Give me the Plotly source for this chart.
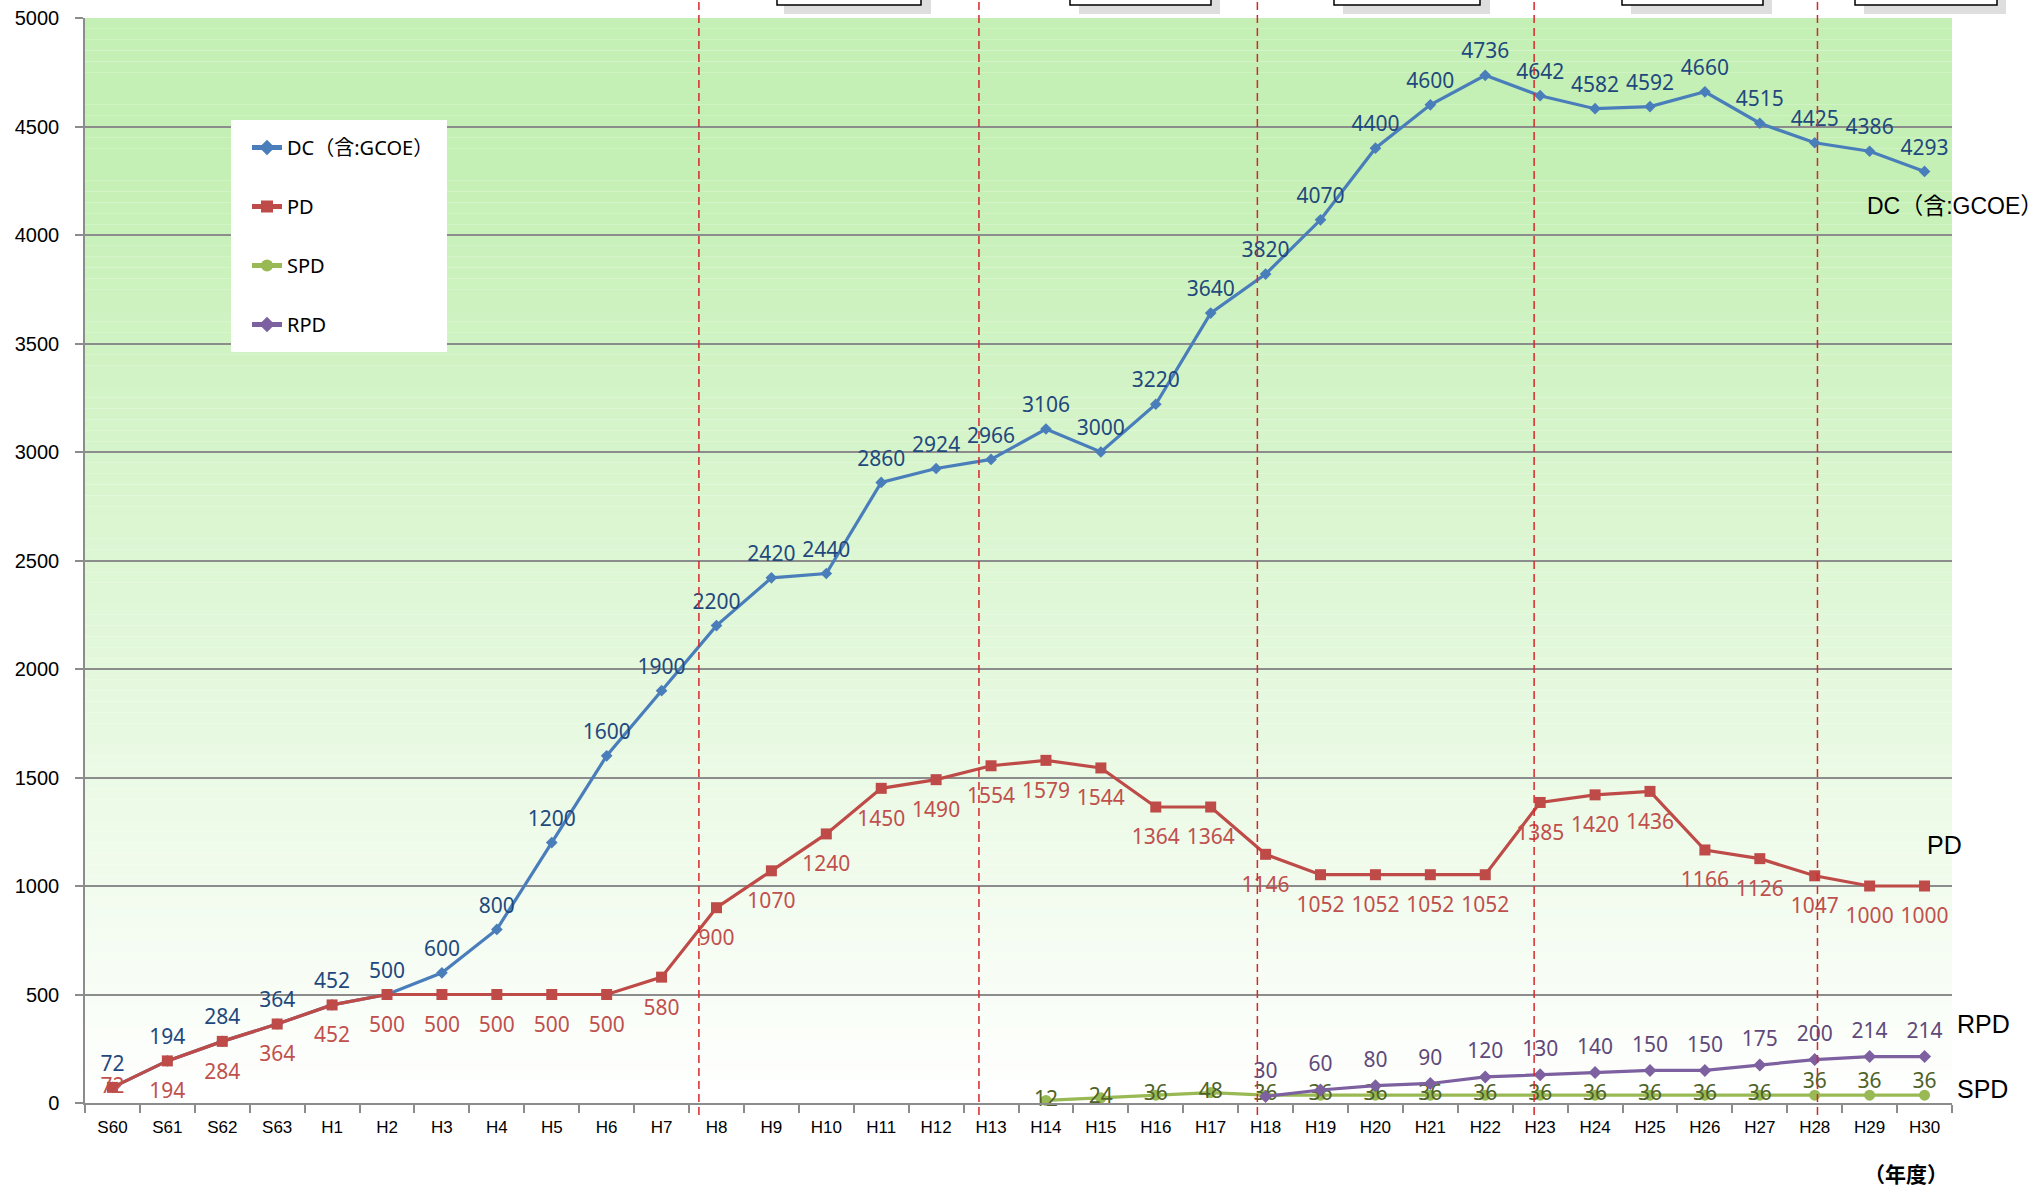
import plotly.graph_objects as go

categories = ["S60", "S61", "S62", "S63"] + [f"H{i}" for i in range(1, 31)]

dc = [72, 194, 284, 364, 452, 500, 600, 800, 1200, 1600, 1900, 2200, 2420, 2440, 2860, 2924,
      2966, 3106, 3000, 3220, 3640, 3820, 4070, 4400, 4600, 4736, 4642, 4582, 4592, 4660, 4515,
      4425, 4386, 4293]
pd_vals = [72, 194, 284, 364, 452, 500, 500, 500, 500, 500, 580, 900, 1070, 1240, 1450, 1490,
           1554, 1579, 1544, 1364, 1364, 1146, 1052, 1052, 1052, 1052, 1385, 1420, 1436, 1166,
           1126, 1047, 1000, 1000]
spd_cats = [f"H{i}" for i in range(14, 31)]
spd = [12, 24, 36, 48, 36, 36, 36, 36, 36, 36, 36, 36, 36, 36, 36, 36, 36]
rpd_cats = [f"H{i}" for i in range(18, 31)]
rpd = [30, 60, 80, 90, 120, 130, 140, 150, 150, 175, 200, 214, 214]

y_ticks = list(range(0, 5001, 500))
era_lines = [10.68, 15.78, 20.85, 25.89, 31.05]

# page geometry (pixels)
W, H = 2043, 1191
L, R, T, B = 85, 1952, 18, 1103
PW, PH = R - L, B - T
def px(x):
    return (x - L) / PW
def py(y):
    return (B - y) / PH

fig = go.Figure()

def add_series(xs, ys, name, group, color, text_color, symbol, msize, positions, label_pad):
    # line + markers (legend entry)
    fig.add_trace(go.Scatter(
        x=xs, y=ys, name=name, mode="lines+markers",
        line=dict(color=color, width=3.2), marker=dict(symbol=symbol, size=msize, color=color),
        legendgroup=group, cliponaxis=False))
    # data labels, offset by an invisible marker of size label_pad
    fig.add_trace(go.Scatter(
        x=xs, y=ys, mode="markers+text", showlegend=False, hoverinfo="skip",
        marker=dict(size=label_pad, color="rgba(0,0,0,0)"),
        text=[str(v) for v in ys], textposition=positions,
        textfont=dict(family="Noto Sans", size=21, color=text_color),
        legendgroup=group, cliponaxis=False))

add_series(categories, dc, "DC（含:GCOE）", "a", "#4a7ebb", "#1f497d", "diamond", 9,
           "top center", 17)

pd_pos = ["bottom center"] * len(pd_vals)
pd_pos[0] = "middle center"
add_series(categories, pd_vals, "PD", "b", "#be4b48", "#c0504d", "square", 11, pd_pos, 33)

spd_pos = ["middle center"] * len(spd)
for i in range(len(spd) - 3, len(spd)):
    spd_pos[i] = "top center"
add_series(spd_cats, spd, "SPD", "c", "#98b954", "#4f6228", "circle", 11, spd_pos, 1)

add_series(rpd_cats, rpd, "RPD", "d", "#7d60a0", "#5f497a", "diamond", 10, "top center", 20)

shapes = []
# gradient background bands
top_c = (197, 240, 181)
n = 100
for i in range(n):
    y0 = 5000 * i / n
    y1 = 5000 * (i + 1) / n
    t = min(1.0, ((y0 + y1) / 2) / 4300)
    c = tuple(int(round(255 + (tc - 255) * t)) for tc in top_c)
    shapes.append(dict(type="rect", xref="paper", yref="y", x0=0, x1=1, y0=y0, y1=y1,
                       fillcolor=f"rgb{c}", line=dict(width=0), layer="below"))
# legend box
shapes.append(dict(type="rect", xref="paper", yref="paper", x0=px(231), x1=px(447),
                   y0=py(352), y1=py(120), fillcolor="white", line=dict(width=0), layer="above"))
# era dashed lines
for xv in era_lines:
    shapes.append(dict(type="line", xref="x", yref="paper", x0=xv, x1=xv, y0=py(1115), y1=py(0),
                       line=dict(color="#d9262b", width=1.5, dash="8px,5px"), layer="above"))
# partial boxes at the top (cut off)
boxes = [(777, 921, 784, 931), (1070, 1211, 1079, 1220), (1334, 1480, 1343, 1490),
         (1622, 1763, 1631, 1772), (1855, 1997, 1864, 2006)]
for bx0, bx1, sx0, sx1 in boxes:
    shapes.append(dict(type="rect", xref="paper", yref="paper", x0=px(sx0), x1=px(sx1),
                       y0=py(14), y1=py(-20), fillcolor="#dedede", line=dict(width=0), layer="above"))
    shapes.append(dict(type="rect", xref="paper", yref="paper", x0=px(bx0), x1=px(bx1),
                       y0=py(5), y1=py(-20), fillcolor="white", line=dict(color="black", width=1.5),
                       layer="above"))

annotations = [
    dict(text="DC（含:GCOE）", x=px(1865), y=py(206), xanchor="left", yanchor="middle", size=23),
    dict(text="PD", x=px(1925), y=py(845), xanchor="left", yanchor="middle", size=25),
    dict(text="RPD", x=px(1955), y=py(1024), xanchor="left", yanchor="middle", size=25),
    dict(text="SPD", x=px(1955), y=py(1089), xanchor="left", yanchor="middle", size=25),
]
for a in annotations:
    s = a.pop("size")
    a.update(xref="paper", yref="paper", showarrow=False,
             font=dict(family="Liberation Sans, Noto Sans CJK JP", size=s, color="black"))
annotations.append(dict(text="<b>（年度）</b>", x=px(1906), y=py(1173), xref="paper", yref="paper",
                        showarrow=False, xanchor="center", yanchor="middle",
                        font=dict(family="Noto Sans CJK JP", size=21, color="black")))

fig.update_layout(
    width=W, height=H,
    margin=dict(l=L, r=W - R, t=T, b=H - B, autoexpand=False),
    paper_bgcolor="white", plot_bgcolor="rgba(0,0,0,0)",
    shapes=shapes, annotations=annotations,
    showlegend=True,
    legend=dict(x=px(247), y=py(128), xanchor="left", yanchor="top", bgcolor="rgba(0,0,0,0)",
                font=dict(family="Noto Sans, Noto Sans CJK JP", size=20, color="black"),
                traceorder="grouped", tracegroupgap=30, itemsizing="constant"),
    xaxis=dict(type="category", categoryorder="array", categoryarray=categories,
               range=[-0.5, len(categories) - 0.5], showgrid=False,
               showline=True, linecolor="#8c8c8c", linewidth=1.5,
               ticks="outside", tickson="boundaries", ticklen=8, tickcolor="#8c8c8c", tickwidth=1.5,
               tickfont=dict(family="Liberation Sans", size=17, color="black"), ticklabelstandoff=8),
    yaxis=dict(range=[0, 5000], tickvals=y_ticks, showgrid=True, gridcolor="#8c8c8c", gridwidth=1.5,
               showline=True, linecolor="#8c8c8c", linewidth=1.5, zeroline=False,
               ticks="outside", ticklen=8, tickcolor="#8c8c8c", tickwidth=1.5, ticklabeloverflow="allow",
               tickfont=dict(family="Liberation Sans", size=20, color="black"), ticklabelstandoff=12),
)

fig.write_html("out.html", config={"displayModeBar": False},
               post_script="document.body.style.margin='0';document.body.style.overflow='hidden';")
